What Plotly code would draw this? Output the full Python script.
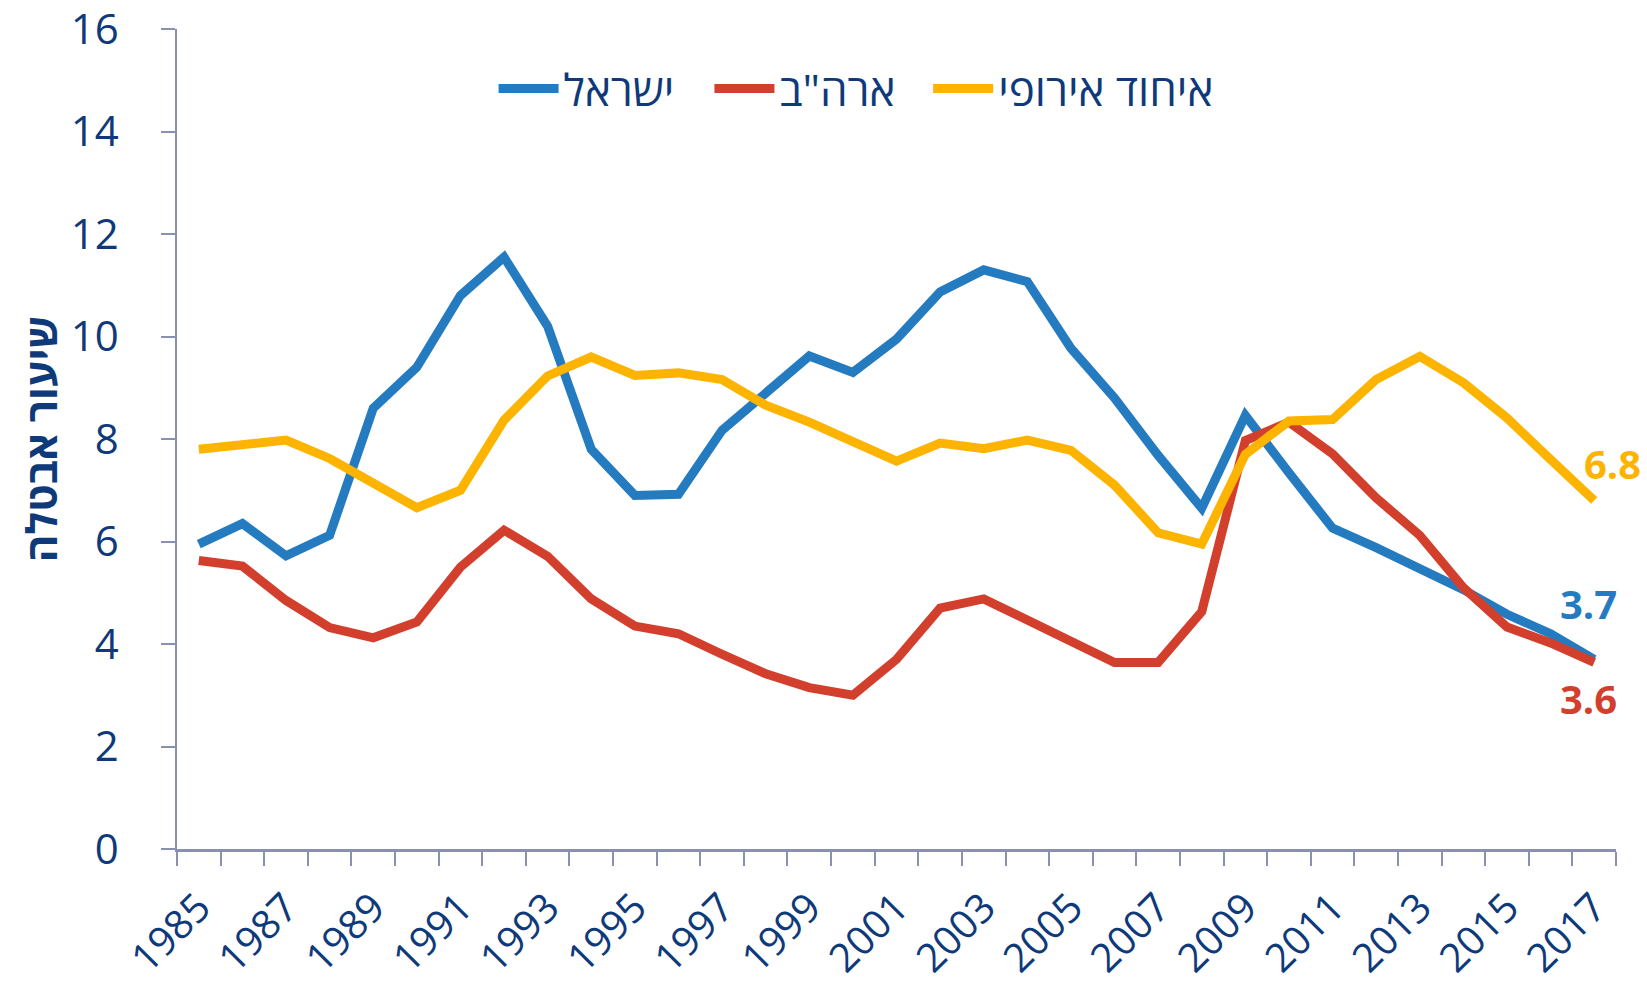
import plotly.graph_objects as go

years = list(range(1985, 2018))

israel = [5.95, 6.35, 5.72, 6.12, 8.6, 9.4, 10.8, 11.55, 10.2, 7.8, 6.9, 6.92,
          8.17, 8.92, 9.62, 9.3, 9.95, 10.87, 11.3, 11.07, 9.77, 8.8, 7.68, 6.65,
          8.46, 7.34, 6.26, 5.88, 5.45, 5.06, 4.58, 4.2, 3.7]

usa = [5.63, 5.52, 4.85, 4.32, 4.12, 4.43, 5.5, 6.22, 5.71, 4.88, 4.35, 4.2,
       3.8, 3.42, 3.15, 3.0, 3.7, 4.7, 4.88, 4.48, 4.07, 3.64, 3.64, 4.63,
       7.97, 8.33, 7.71, 6.85, 6.12, 5.1, 4.33, 4.02, 3.64]

eu = [7.8, 7.88, 7.98, 7.62, 7.15, 6.66, 7.0, 8.37, 9.23, 9.6, 9.24, 9.29,
      9.16, 8.66, 8.33, 7.96, 7.57, 7.92, 7.81, 7.98, 7.78, 7.1, 6.17, 5.95,
      7.7, 8.35, 8.38, 9.16, 9.61, 9.1, 8.41, 7.6, 6.8]

series_names = ["ישראל", 'ארה"ב', "איחוד אירופי"]
colors = ["#257BC0", "#D33F2D", "#FDB400"]
end_labels = ["3.7", "3.6", "6.8"]

y_ticks = [0, 2, 4, 6, 8, 10, 12, 14, 16]
label_years = years[::2]
boundaries = [y - 0.5 for y in years] + [years[-1] + 0.5]

TXT = "#0F3A7A"
AX = "#8A91B0"
FONT = "Open Sans, Liberation Sans, DejaVu Sans, sans-serif"

# legend positions (paper x of each entry's left edge)
legend_x = [0.220, 0.370, 0.522]
legend_ids = ["legend", "legend2", "legend3"]

fig = go.Figure()
for name, vals, col, lid in zip(series_names, [israel, usa, eu], colors, legend_ids):
    fig.add_trace(go.Scatter(
        x=years, y=vals, mode="lines", name=name, legend=lid,
        line=dict(color=col, width=9),
    ))

# end value labels
shifts = [(-6, 56), (-6, -36), (18, 37)]
for vals, col, txt, (dx, dy) in zip([israel, usa, eu], colors, end_labels, shifts):
    fig.add_annotation(x=years[-1], y=vals[-1], text="<b>%s</b>" % txt,
                       showarrow=False, xshift=dx, yshift=dy,
                       font=dict(color=col, size=40, family=FONT))

fig.add_annotation(xref="paper", yref="paper", x=-0.095, y=0.5,
                   xanchor="center", yanchor="middle",
                   text="<b>שיעור אבטלה</b>", textangle=-90, showarrow=False,
                   font=dict(color=TXT, size=42, family=FONT))

leg_common = dict(orientation="h", y=0.927, xanchor="left", yanchor="middle",
                  font=dict(size=44, color=TXT, family=FONT),
                  bgcolor="rgba(0,0,0,0)", itemwidth=60)

fig.update_layout(
    width=1647, height=985,
    margin=dict(l=177, r=31, t=29, b=136, autoexpand=False),
    paper_bgcolor="white", plot_bgcolor="white",
    font=dict(family=FONT, color=TXT, size=34),
    showlegend=True,
    legend=dict(x=legend_x[0], **leg_common),
    legend2=dict(x=legend_x[1], **leg_common),
    legend3=dict(x=legend_x[2], **leg_common),
    xaxis=dict(range=[years[0] - 0.5, years[-1] + 0.5],
               tickmode="array", tickvals=label_years, ticktext=[str(y) for y in label_years],
               ticks="outside", ticklen=16, tickcolor="rgba(0,0,0,0)",
               ticklabeloverflow="allow",
               showline=True, linecolor=AX, linewidth=3, showgrid=False, zeroline=False,
               tickangle=-45, tickfont=dict(size=40, color=TXT, family=FONT),
               minor=dict(tickmode="array", tickvals=boundaries, ticks="outside", ticklen=14,
                          tickcolor=AX, tickwidth=1.5, showgrid=False)),
    yaxis=dict(range=[0, 16], tickmode="array", tickvals=y_ticks,
               ticks="outside", ticklen=14, tickcolor=AX, tickwidth=1.5,
               ticklabelstandoff=34, ticklabeloverflow="allow",
               showline=True, linecolor=AX, linewidth=1.5, showgrid=False, zeroline=False,
               tickfont=dict(size=42, color=TXT, family=FONT)),
)

fig.write_html("out.html", config={"displayModeBar": False},
               post_script="document.body.style.margin='0';document.body.style.overflow='hidden';")
